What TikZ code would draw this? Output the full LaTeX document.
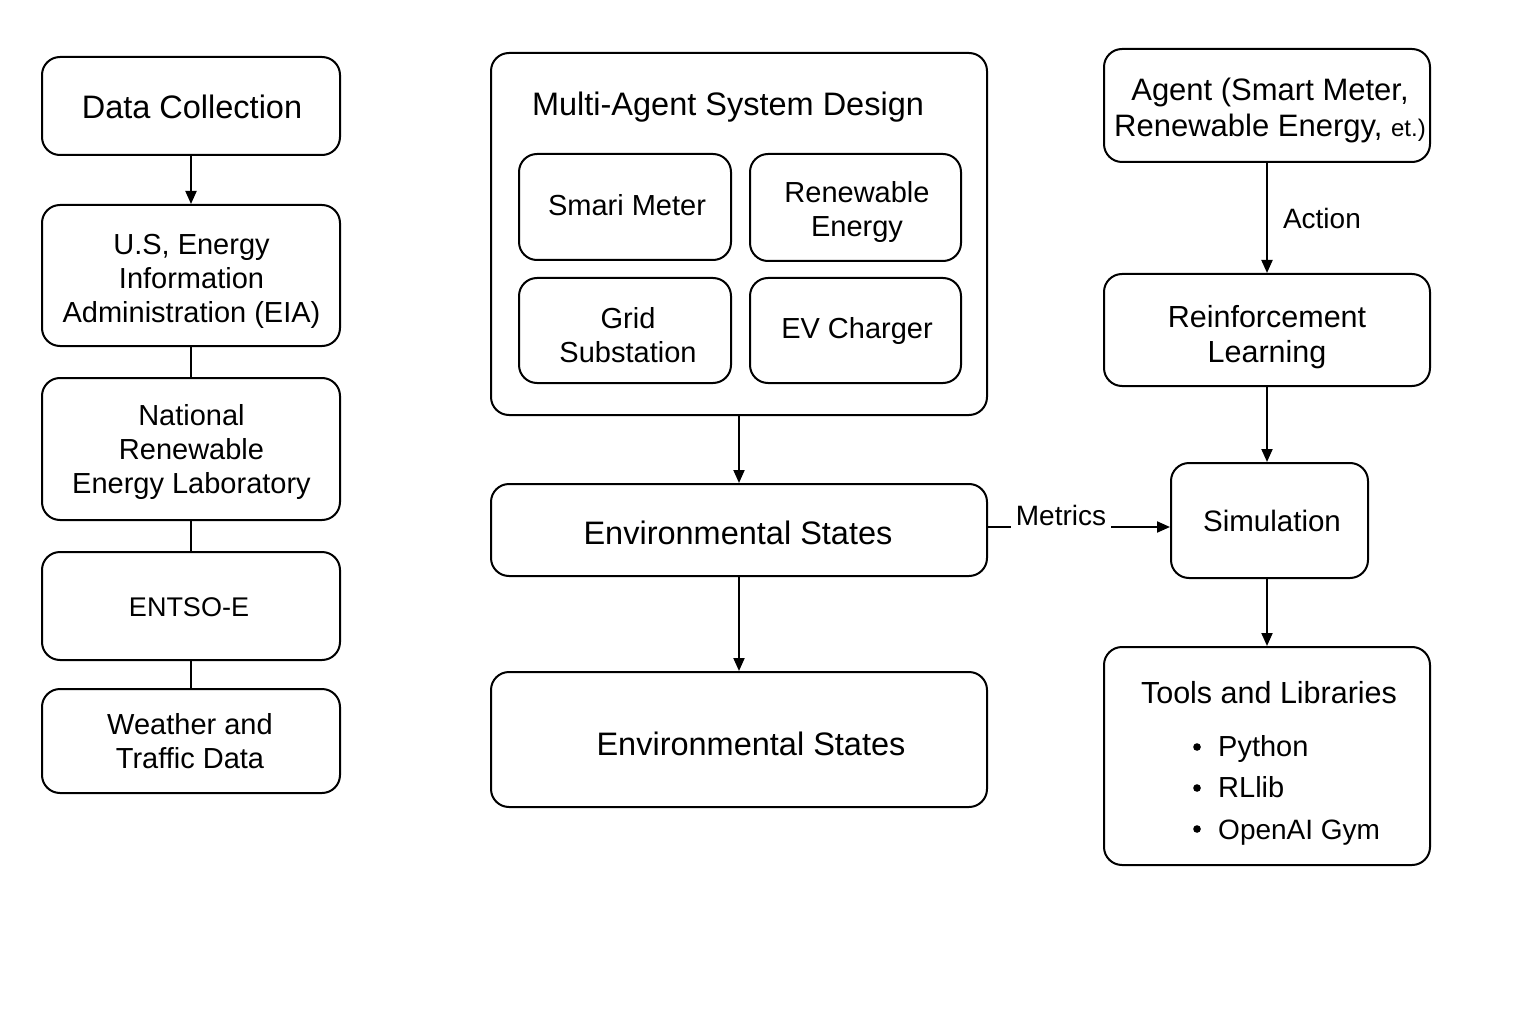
\documentclass[tikz,border=0pt]{standalone}
\usepackage{fontspec}
\setmainfont{Liberation Sans}
\usetikzlibrary{arrows.meta}
\tikzset{
  box/.style={draw=black, line width=2pt, rounded corners=18pt, inner sep=0pt},
  txt/.style={align=center, inner sep=0pt, font=\fontsize{29}{34}\selectfont},
  arr/.style={line width=2pt, -{Triangle[length=13pt,width=11pt]}},
  ln/.style={line width=2pt},
  lbl/.style={font=\fontsize{28}{33}\selectfont, inner sep=5pt},
  item/.style={font=\fontsize{29}{34}\selectfont, anchor=west, inner sep=0pt},
}
\begin{document}
\begin{tikzpicture}[x=1pt,y=-1pt]
\useasboundingbox[fill=white] (0,0) rectangle (1536,1024);
% left column
\node[box, minimum width=298pt, minimum height=98pt] (dc) at (191,106) {};
\node[txt, font=\fontsize{32.5}{36}\selectfont] (dct) at (192,107) {Data Collection};
\node[box, minimum width=298pt, minimum height=141pt] (eia) at (191,275.5) {};
\node[txt] (eiat) at (191.5,281) {U.S, Energy\\Information\\Administration (EIA)};
\node[box, minimum width=298pt, minimum height=142pt] (nrel) at (191,449) {};
\node[txt] (nrelt) at (191.5,452) {National\\Renewable\\Energy Laboratory};
\node[box, minimum width=298pt, minimum height=108pt] (ent) at (191,606) {};
\node[txt, font=\fontsize{27}{32}\selectfont] (entt) at (189,607) {ENTSO-E};
\node[box, minimum width=298pt, minimum height=104pt] (wt) at (191,741) {};
\node[txt] (wtt) at (190,741) {Weather and\\Traffic Data};
\draw[arr] (dc.south) -- (eia.north);
\draw[ln] (eia.south) -- (nrel.north);
\draw[ln] (nrel.south) -- (ent.north);
\draw[ln] (ent.south) -- (wt.north);
% middle
\node[box, minimum width=496pt, minimum height=362pt] (mas) at (739,234) {};
\node[txt, font=\fontsize{32.5}{38}\selectfont] (mast) at (728,107) {Multi-Agent System Design};
\node[box, minimum width=212pt, minimum height=106pt] (sm) at (625,207) {};
\node[txt] (smt) at (627,205) {Smari Meter};
\node[box, minimum width=211pt, minimum height=107pt] (re) at (855.5,207.5) {};
\node[txt] (ret) at (857,212) {Renewable\\Energy};
\node[box, minimum width=212pt, minimum height=105pt] (gs) at (625,330.5) {};
\node[txt] (gst) at (628,335) {Grid\\Substation};
\node[box, minimum width=211pt, minimum height=105pt] (ev) at (855.5,330.5) {};
\node[txt] (evt) at (857,331) {EV Charger};
\node[box, minimum width=496pt, minimum height=92pt] (env1) at (739,530) {};
\node[txt, font=\fontsize{32.5}{38}\selectfont] (env1t) at (738,533) {Environmental States};
\node[box, minimum width=496pt, minimum height=135pt] (env2) at (739,739.5) {};
\node[txt, font=\fontsize{32.5}{38}\selectfont] (env2t) at (751,744) {Environmental States};
\draw[arr] (mas.south) -- (env1.north);
\draw[arr] (env1.south) -- (env2.north);
% right
\node[box, minimum width=326pt, minimum height=113pt] (ag) at (1267,105.5) {};
\node[txt, font=\fontsize{31}{36}\selectfont] (agt) at (1270,110) {Agent (Smart Meter,\\Renewable Energy, {\fontsize{24}{36}\selectfont et.)}};
\node[box, minimum width=326pt, minimum height=112pt] (rl) at (1267,330) {};
\node[txt, font=\fontsize{30.5}{35}\selectfont] (rlt) at (1267,337) {Reinforcement\\Learning};
\node[box, minimum width=197pt, minimum height=115pt] (sim) at (1269.5,520.5) {};
\node[txt, font=\fontsize{29.5}{35}\selectfont] (simt) at (1272,521) {Simulation};
\node[box, minimum width=326pt, minimum height=218pt] (tl) at (1267,756) {};
\node[txt, font=\fontsize{30.5}{35}\selectfont] (tlt) at (1269,693) {Tools and Libraries};
\node[item] (py) at (1218,749) {Python};
\node[item] (rll) at (1218,787) {RLlib};
\node[item, font=\fontsize{28}{33}\selectfont] (gym) at (1218,833) {OpenAI Gym};
\foreach \y in {747,788,829}{
  \fill (1197,\y) circle (3.8pt);
}
\draw[arr] (ag.south) -- node[lbl, right, xshift=10pt] (act) {Action} (rl.north);
\draw[arr] (rl.south) -- (rl.south |- sim.north);
\draw[arr] (sim.south -| rl.south) -- (tl.north);
\coordinate (m1) at (987,527);
\draw[arr] (m1) -- (m1 -| sim.west);
\node[lbl, fill=white] (met) at (1061,515) {Metrics};
\end{tikzpicture}
\end{document}
